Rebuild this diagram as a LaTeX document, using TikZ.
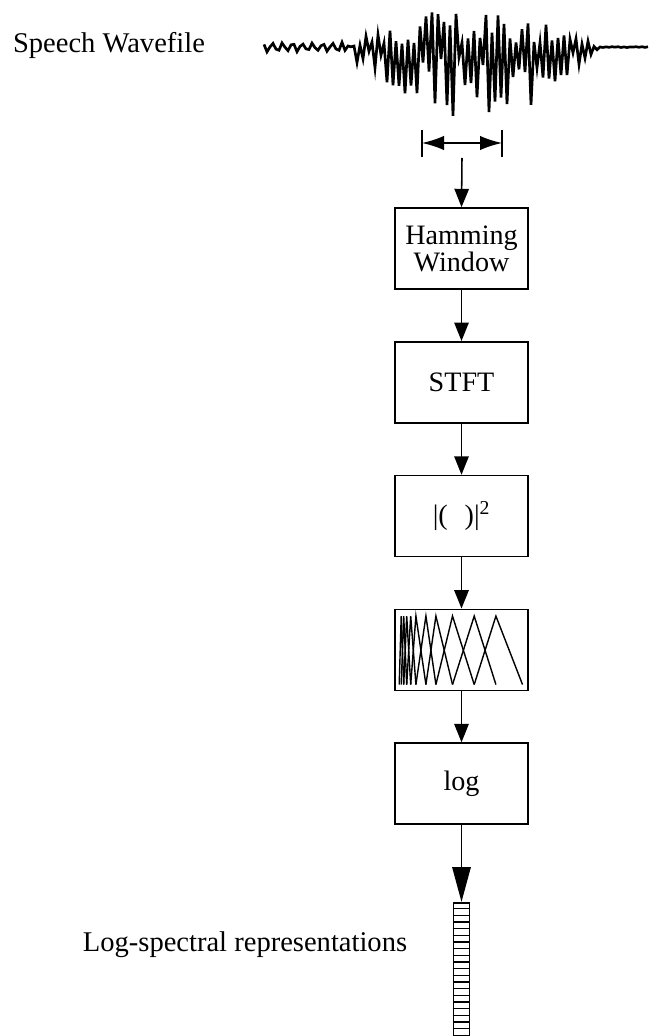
\documentclass[tikz,border=0pt]{standalone}
\usepackage{fontspec}
\setmainfont{Liberation Serif}
\usetikzlibrary{positioning,arrows.meta}
\tikzset{
block/.style={
draw,
line width=1.1pt,
minimum width=3.325cm,
minimum height=2.025cm,
inner sep=0pt,
align=center,
font=\fontsize{20}{15}\selectfont
},
arrow/.style={
-{Triangle[length=4.6mm,width=3.6mm]},
line width=1.1pt
},
bigarrow/.style={
-{Triangle[length=8.7mm,width=4.6mm]},
line width=1.2pt
},
lbl/.style={
font=\fontsize{20.3}{24}\selectfont
},
wave/.style={
line width=1.9pt,
line join=miter
}
}

\begin{document}
\begin{tikzpicture}[x=0.025cm,y=-0.025cm,node distance=1.28cm,
declare function={
wenv(\t)=(\t<340)*0.8+and(\t>=340,\t<435)*(3.5+(\t-340)*0.5)+and(\t>=435,\t<525)*51+and(\t>=525,\t<598)*(2+(598-\t)*0.67)+(\t>=598)*0.4;
wskew(\r)=(\r>0)*0.7*\r+(\r<=0)*1.35*\r;
wquiet(\t)=(\t<352)*4*sin(36*mod(\t,10));
wsign(\t)=1-mod(round(\t),6)/1.5;
}]

\useasboundingbox (0,0) rectangle (650,1036);

\node[lbl](wavelabel) at (109,45){Speech Wavefile};

% speech signal
\pgfmathsetseed{17}
\draw[wave] plot[domain=264:648,samples=129,variable=\t]
(\t,{47-wquiet(\t)-wenv(\t)*wskew(wsign(\t)*(0.1+0.9*rnd))});

% analysis window
\coordinate(winl) at (422,143);
\coordinate(winr) at (502,143);
\coordinate(winmid) at (462,158);
\draw[line width=1.1pt] ([yshift=0.325cm]winl) -- ([yshift=-0.35cm]winl);
\draw[line width=1.1pt] ([yshift=0.325cm]winr) -- ([yshift=-0.35cm]winr);
\draw[line width=1.1pt,{Latex[length=5.5mm,width=3.6mm]}-{Latex[length=5.5mm,width=3.6mm]}]
(winl) -- (winr);

\node[block](hamming) at (461.5,248.5){Hamming\\Window};

\node[block,below=of hamming](stft){STFT};

\node[block,below=of stft](power){|(\hspace{0.6em})|\textsuperscript{2}};

\node[block,below=of power](melfb){};

\node[block,below=of melfb](logbox){log};

\node[draw,line width=1.4pt,minimum width=0.4cm,minimum height=3.5cm,inner sep=0pt,
below=1.925cm of logbox](logspec){};

\node[lbl](speclabel) at (245,945){Log-spectral representations};

% filter bank
\begin{scope}[shift={(melfb.north west)},line width=1pt]
\foreach \a/\b/\c in {5/7/9.5,7/9.5/12.5,9.5/12.5/16.5,12.5/16.5/21.7,
16.5/21.7/31.7,21.7/31.7/41.7,31.7/41.7/58.3,
41.7/58.3/80,58.3/80/101.7,80/101.7/128.3}
\draw (\a,76) -- (\b,7.5) -- (\c,76);
\end{scope}

% vector cells
\foreach \k in {1,...,20}
\draw[line width=1pt] ([yshift=-\k*0.1667cm]logspec.north west) -- ([yshift=-\k*0.1667cm]logspec.north east);

\draw[arrow](winmid)--(hamming.north);

\draw[arrow](hamming)--(stft);

\draw[arrow](stft)--(power);

\draw[arrow](power)--(melfb);

\draw[arrow](melfb)--(logbox);

\draw[bigarrow](logbox)--(logspec);

\end{tikzpicture}
\end{document}
